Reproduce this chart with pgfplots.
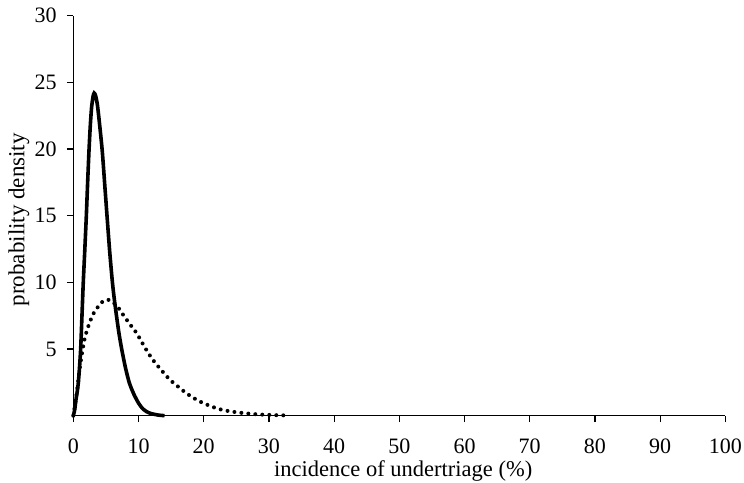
\documentclass[border=0pt]{standalone}
\usepackage{fontspec}
\setmainfont{Liberation Serif}
\usepackage{pgfplots}
\pgfplotsset{compat=1.18}

\begin{document}
\begin{tikzpicture}
\path[use as bounding box] (-73.3bp,-67.3bp) rectangle (670.7bp,415.7bp);
\begin{axis}[
    at={(0,0)}, anchor=south west,
    scale only axis,
    width=652bp, height=400bp,
    xmin=0, xmax=100, ymin=0, ymax=30,
    axis lines=left,
    axis line style={-, line width=1.2bp},
    every tick/.style={black, line width=1.2bp},
    tick align=outside,
    major tick length=6.5bp,
    xtick={0,10,...,100},
    ytick={5,10,...,30},
    font=\fontsize{22bp}{26bp}\selectfont,
    tick label style={font=\fontsize{22bp}{26bp}\selectfont},
    /pgf/number format/assume math mode=true,
    xticklabel style={anchor=base, yshift=-31.5bp},
    yticklabel style={anchor=east, inner sep=0pt, xshift=-10bp},
    xlabel={incidence of undertriage (\%)},
    ylabel={probability density},
    x label style={font=\fontsize{22.5bp}{26bp}\selectfont, at={(axis description cs:0.506,-0.152)}, anchor=base, inner sep=1bp},
    y label style={font=\fontsize{23bp}{26bp}\selectfont, at={(axis description cs:-0.075,0.49)}, anchor=base, inner sep=1bp, rotate=0},
    clip=false
]
% solid curve
\addplot[black, line width=3.6bp, smooth, tension=0.4] coordinates {
(0,0) (0.2,0.4) (0.41,1.2) (0.6,1.8) (0.77,2.45) (0.95,3.6) (1.13,5)
(1.33,7.5) (1.53,10) (1.77,12.5) (2.0,15) (2.2,17.5) (2.4,19.8)
(2.6,21.7) (2.8,23.1) (3.0,23.85) (3.1,24.1) (3.2,24.2) (3.3,24.15) (3.45,23.95) (3.7,23.3)
(4.0,22.0) (4.45,19.8) (4.9,16.8) (5.2,14.8) (5.6,12.2) (6.0,10)
(6.3,8.7) (6.65,7.4) (7.0,6.2) (7.42,5) (8.0,3.6) (8.6,2.45) (9.3,1.6)
(10,0.95) (10.6,0.55) (11.25,0.3) (12,0.15) (13,0.05) (14,0)
};
% dotted curve
\addplot[black, line width=4bp, line cap=round, dash pattern=on 0bp off 7bp, smooth, tension=0.4] coordinates {
(0,0) (0.5,1.6) (1.0,3.6) (1.44,5.0) (1.8,5.9) (2.3,6.7) (2.97,7.55)
(3.84,8.2) (4.6,8.6) (5.3,8.7) (6.0,8.55) (6.9,8.1) (7.67,7.55)
(8.7,6.85) (9.7,6.2) (10.7,5.35) (11.5,4.7) (12.5,4.0) (13.8,3.25)
(14.8,2.7) (15.9,2.25) (16.9,1.85) (17.9,1.5) (18.9,1.2) (19.9,0.95)
(21,0.73) (22,0.55) (23,0.42) (24,0.33) (25,0.26) (26,0.2) (27,0.15)
(28,0.11) (29,0.08) (30,0.06) (31,0.04) (32,0.03) (33,0.02)
};
\end{axis}
\end{tikzpicture}
\end{document}
